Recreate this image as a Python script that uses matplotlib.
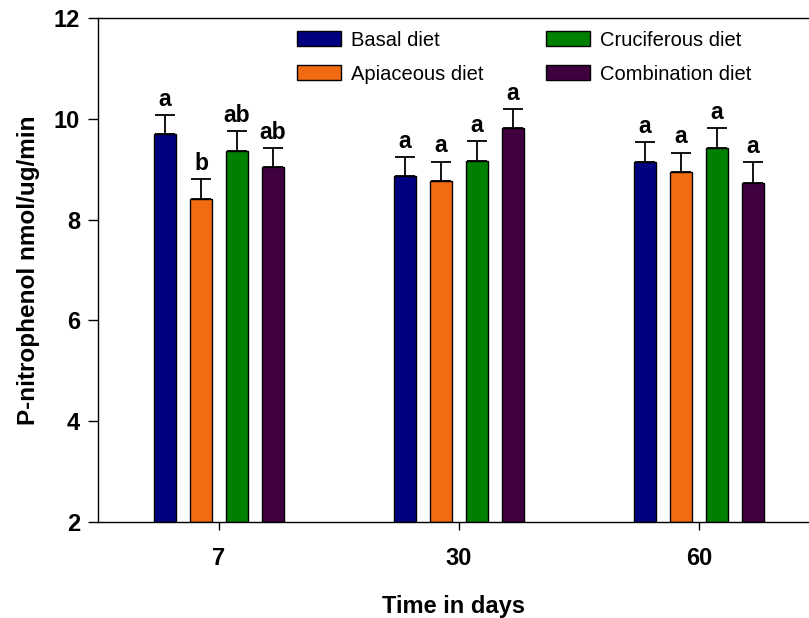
import matplotlib
matplotlib.use("Agg")
import matplotlib.pyplot as plt
import numpy as np

plt.rcParams['font.family'] = ['Liberation Sans', 'DejaVu Sans']

days = ["7", "30", "60"]
series_names = ["Basal diet", "Apiaceous diet", "Cruciferous diet", "Combination diet"]
basal = [9.70, 8.86, 9.14]
apiaceous = [8.41, 8.77, 8.94]
cruciferous = [9.37, 9.17, 9.43]
combination = [9.04, 9.82, 8.73]
basal_err = [0.38, 0.38, 0.39]
apiaceous_err = [0.39, 0.38, 0.39]
cruciferous_err = [0.39, 0.38, 0.38]
combination_err = [0.38, 0.37, 0.41]
basal_letters = ["a", "a", "a"]
apiaceous_letters = ["b", "a", "a"]
cruciferous_letters = ["ab", "a", "a"]
combination_letters = ["ab", "a", "a"]

colors = ["#000080", "#F26B12", "#008000", "#400040"]
values = [basal, apiaceous, cruciferous, combination]
errors = [basal_err, apiaceous_err, cruciferous_err, combination_err]
letters = [basal_letters, apiaceous_letters, cruciferous_letters, combination_letters]

W, H = 809, 618
fig = plt.figure(figsize=(W / 100, H / 100), dpi=100)
ax = fig.add_axes([98 / W, 1 - 522 / H, (808 - 98) / W, (522 - 18) / H])

x = np.arange(len(days))
width = 22 / 240
offsets = np.array([-54, -18, 18, 54]) / 240

for i in range(4):
    xs = x + offsets[i]
    ax.bar(xs, np.array(values[i]) - 2, width, bottom=2, color=colors[i],
           edgecolor="black", linewidth=1.0, label=series_names[i], zorder=2)
    ax.errorbar(xs, values[i], yerr=[np.zeros(3), errors[i]], fmt="none",
                ecolor="black", elinewidth=1.3, capsize=7.5, capthick=1.3, zorder=3)
    for xi, v, e, lab in zip(xs, values[i], errors[i], letters[i]):
        ax.annotate(lab, (xi, v + e), xytext=(0, 3), textcoords="offset points",
                    ha="center", va="bottom", fontsize=16.5, fontweight="bold")

ax.set_ylim(2, 12)
ax.set_xlim(-121 / 240, -121 / 240 + 710 / 240)
ax.set_yticks([2, 4, 6, 8, 10, 12])
ax.set_xticks(x)
ax.set_xticklabels(days)
ax.tick_params(axis="both", labelsize=17, direction="out")
ax.tick_params(axis="y", length=7, width=1, pad=6)
ax.tick_params(axis="x", length=6, width=1, pad=12)
for lab in ax.get_xticklabels() + ax.get_yticklabels():
    lab.set_fontweight("bold")
ax.spines["right"].set_visible(False)
for s in ["left", "bottom", "top"]:
    ax.spines[s].set_linewidth(1.0)

ax.set_ylabel("P-nitrophenol nmol/ug/min", fontsize=17.5, fontweight="bold", labelpad=10)
ax.set_xlabel("Time in days", fontsize=17, fontweight="bold", labelpad=18)

leg = ax.legend(ncol=2, loc="upper left", bbox_to_anchor=(0.280, 0.975), frameon=False,
                fontsize=14.5, handlelength=2.2, handleheight=0.75, columnspacing=3.1,
                labelspacing=0.75, handletextpad=0.5, borderpad=0, borderaxespad=0)

fig.savefig("out.png", dpi=100)
